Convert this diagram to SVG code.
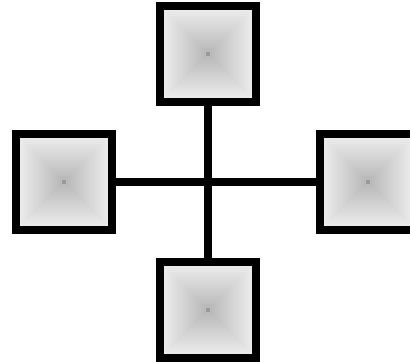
<svg xmlns="http://www.w3.org/2000/svg" xmlns:xlink="http://www.w3.org/1999/xlink" width="410" height="362" viewBox="0 0 410 362">
<style>
.frame{fill:none;stroke:#000;stroke-width:8}
.conn{stroke:#000;stroke-width:8;fill:none}
.ring{stroke:#000;stroke-opacity:0.08;stroke-width:0.8}
</style>
<defs>
<g id="sq">
<rect class="ring" x="-44" y="-44" width="88" height="88" fill="#f3f3f3"/>
<rect class="ring" x="-42" y="-42" width="84" height="84" fill="#f0f0f0"/>
<rect class="ring" x="-40" y="-40" width="80" height="80" fill="#eeeeee"/>
<rect class="ring" x="-38" y="-38" width="76" height="76" fill="#ebebeb"/>
<rect class="ring" x="-36" y="-36" width="72" height="72" fill="#e9e9e9"/>
<rect class="ring" x="-34" y="-34" width="68" height="68" fill="#e6e6e6"/>
<rect class="ring" x="-32" y="-32" width="64" height="64" fill="#e4e4e4"/>
<rect class="ring" x="-30" y="-30" width="60" height="60" fill="#e1e1e1"/>
<rect class="ring" x="-28" y="-28" width="56" height="56" fill="#dfdfdf"/>
<rect class="ring" x="-26" y="-26" width="52" height="52" fill="#dcdcdc"/>
<rect class="ring" x="-24" y="-24" width="48" height="48" fill="#dadada"/>
<rect class="ring" x="-22" y="-22" width="44" height="44" fill="#d7d7d7"/>
<rect class="ring" x="-20" y="-20" width="40" height="40" fill="#d5d5d5"/>
<rect class="ring" x="-18" y="-18" width="36" height="36" fill="#d2d2d2"/>
<rect class="ring" x="-16" y="-16" width="32" height="32" fill="#d0d0d0"/>
<rect class="ring" x="-14" y="-14" width="28" height="28" fill="#cdcdcd"/>
<rect class="ring" x="-12" y="-12" width="24" height="24" fill="#cbcbcb"/>
<rect class="ring" x="-10" y="-10" width="20" height="20" fill="#c8c8c8"/>
<rect class="ring" x="-8" y="-8" width="16" height="16" fill="#c6c6c6"/>
<rect class="ring" x="-6" y="-6" width="12" height="12" fill="#c3c3c3"/>
<rect class="ring" x="-4" y="-4" width="8" height="8" fill="#bdbdbd"/>
<rect x="-2" y="-2" width="4" height="4" fill="#999999"/>
<rect class="frame" x="-48" y="-48" width="96" height="96"/>
</g>
</defs>
<g id="connectors">
<line class="conn" x1="116" y1="182" x2="316" y2="182"/>
<line class="conn" x1="208" y1="106" x2="208" y2="258"/>
</g>
<g id="top"><use xlink:href="#sq" href="#sq" x="208" y="54"/></g>
<g id="left"><use xlink:href="#sq" href="#sq" x="64" y="182"/></g>
<g id="right"><use xlink:href="#sq" href="#sq" x="368" y="182"/></g>
<g id="bottom"><use xlink:href="#sq" href="#sq" x="208" y="310"/></g>
</svg>
